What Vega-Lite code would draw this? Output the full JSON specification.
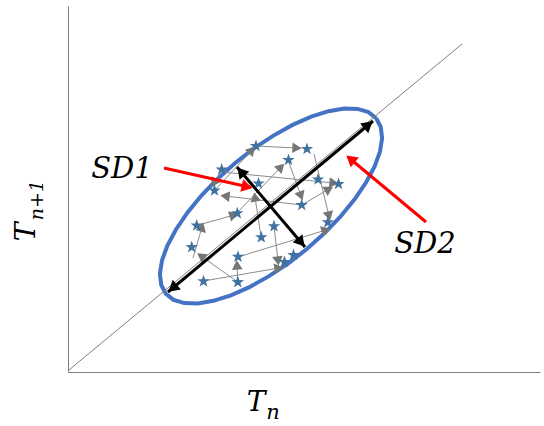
{
  "$schema": "https://vega.github.io/schema/vega-lite/v6.json",
  "width": 472,
  "height": 366,
  "autosize": {"type": "none"},
  "padding": {"left": 68, "top": 6, "right": 4, "bottom": 54},
  "background": "white",
  "config": {"view": {"stroke": null}},
  "datasets": {
    "ellipse": [
      {"i":0,"x":308.2,"y":253.7},{"i":1,"x":312.8,"y":244.9},{"i":2,"x":314.1,"y":233.7},{"i":3,"x":312.0,"y":220.4},
      {"i":4,"x":306.6,"y":205.6},{"i":5,"x":298.0,"y":189.5},{"i":6,"x":286.6,"y":172.7},{"i":7,"x":272.6,"y":155.6},
      {"i":8,"x":256.6,"y":138.9},{"i":9,"x":238.8,"y":123.0},{"i":10,"x":220.0,"y":108.3},{"i":11,"x":200.6,"y":95.6},
      {"i":12,"x":181.4,"y":84.9},{"i":13,"x":162.8,"y":76.7},{"i":14,"x":145.4,"y":71.2},{"i":15,"x":129.8,"y":68.6},
      {"i":16,"x":116.3,"y":68.9},{"i":17,"x":105.6,"y":72.1},{"i":18,"x":97.8,"y":78.3},{"i":19,"x":93.2,"y":87.1},
      {"i":20,"x":91.9,"y":98.3},{"i":21,"x":94.0,"y":111.6},{"i":22,"x":99.4,"y":126.4},{"i":23,"x":108.0,"y":142.5},
      {"i":24,"x":119.4,"y":159.3},{"i":25,"x":133.4,"y":176.4},{"i":26,"x":149.4,"y":193.1},{"i":27,"x":167.2,"y":209.0},
      {"i":28,"x":186.0,"y":223.7},{"i":29,"x":205.4,"y":236.4},{"i":30,"x":224.6,"y":247.1},{"i":31,"x":243.2,"y":255.3},
      {"i":32,"x":260.6,"y":260.8},{"i":33,"x":276.2,"y":263.4},{"i":34,"x":289.7,"y":263.1},{"i":35,"x":300.4,"y":259.9},
      {"i":36,"x":308.2,"y":253.7}
    ],
    "diag": [{"x":1,"y":2,"x2":394,"y2":328}],
    "stars": [
      {"x":188,"y":226},{"x":239,"y":223},{"x":220.5,"y":212},{"x":153.7,"y":202.5},{"x":190.5,"y":188.5},
      {"x":250,"y":192.5},{"x":270.5,"y":188},{"x":146.5,"y":181.5},{"x":233.7,"y":167},{"x":169.3,"y":158.7},
      {"x":128.7,"y":146.5},{"x":206,"y":145.7},{"x":259.8,"y":149.7},{"x":193.3,"y":134.7},{"x":123.7,"y":124.8},
      {"x":170,"y":115.2},{"x":225.5,"y":117},{"x":216.5,"y":110},{"x":135.5,"y":90.7},{"x":169.8,"y":89.8}
    ],
    "steps": [
      {"x":188,"y":226,"x2":229,"y2":224,"angle":93},
      {"x":146.5,"y":181.5,"x2":184,"y2":222,"angle":43},
      {"x":153.7,"y":202.5,"x2":146,"y2":189,"angle":210},
      {"x":169,"y":159,"x2":213,"y2":205,"angle":44},
      {"x":220,"y":212,"x2":233,"y2":176,"angle":160},
      {"x":246,"y":218,"x2":261,"y2":156,"angle":166},
      {"x":153.7,"y":200,"x2":266,"y2":189,"angle":96},
      {"x":233.7,"y":167,"x2":261,"y2":183,"angle":60},
      {"x":233.7,"y":167,"x2":157,"y2":176,"angle":277},
      {"x":128.7,"y":146.5,"x2":166,"y2":157,"angle":74},
      {"x":125,"y":114,"x2":134,"y2":145,"angle":16},
      {"x":169.8,"y":90,"x2":133,"y2":116,"angle":305},
      {"x":169.8,"y":90,"x2":169,"y2":107,"angle":357},
      {"x":206,"y":146,"x2":210,"y2":111,"angle":173},
      {"x":135.5,"y":91,"x2":211,"y2":104,"angle":80},
      {"x":170,"y":115,"x2":258,"y2":142,"angle":73},
      {"x":193,"y":135,"x2":187,"y2":175,"angle":351}
    ],
    "sdlines": [
      {"x":100,"y":80,"x2":305,"y2":251},
      {"x":169,"y":205,"x2":237,"y2":125}
    ],
    "sdheads": [
      {"x":104.6,"y":83.8,"angle":230},
      {"x":300.4,"y":247.2,"angle":50},
      {"x":172.9,"y":200.4,"angle":320},
      {"x":233.1,"y":129.6,"angle":140}
    ],
    "redlines": [
      {"x":96,"y":204,"x2":183,"y2":184.5},
      {"x":358,"y":150,"x2":280,"y2":215}
    ],
    "redheads": [
      {"x":179.1,"y":185.3,"angle":103},
      {"x":282.6,"y":213.1,"angle":310}
    ],
    "sdtext": [
      {"t":"SD1","x":54,"y":203},
      {"t":"SD2","x":357,"y":128}
    ],
    "bigT": [{"t":"T","x":188,"y":-31}],
    "subT": [{"t":"n","x":205,"y":-41}],
    "bigTr": [{"t":"T","x":-41,"y":140}],
    "subTr": [{"t":"n+1","x":-31,"y":172}]
  },
  "layer": [
    {
      "data": {"name": "ellipse"},
      "mark": {"type": "line", "stroke": "#4472C4", "strokeWidth": 4},
      "encoding": {
        "x": {"field": "x", "type": "quantitative", "scale": {"domain": [0, 472], "nice": false, "zero": false},
              "axis": {"title": null, "labels": false, "ticks": false, "grid": false, "domainColor": "#7f7f7f", "domainWidth": 1}},
        "y": {"field": "y", "type": "quantitative", "scale": {"domain": [0, 366], "nice": false, "zero": false},
              "axis": {"title": null, "labels": false, "ticks": false, "grid": false, "domainColor": "#7f7f7f", "domainWidth": 1}},
        "order": {"field": "i", "type": "quantitative"}
      }
    },
    {
      "data": {"name": "diag"},
      "mark": {"type": "rule", "stroke": "#7f7f7f", "strokeWidth": 1},
      "encoding": {
        "x": {"field": "x", "type": "quantitative"}, "y": {"field": "y", "type": "quantitative"},
        "x2": {"field": "x2"}, "y2": {"field": "y2"}
      }
    },
    {
      "data": {"name": "steps"},
      "mark": {"type": "rule", "stroke": "#8c8c8c", "strokeWidth": 1},
      "encoding": {
        "x": {"field": "x", "type": "quantitative"}, "y": {"field": "y", "type": "quantitative"},
        "x2": {"field": "x2"}, "y2": {"field": "y2"}
      }
    },
    {
      "data": {"name": "steps"},
      "mark": {"type": "point", "shape": "triangle-up", "filled": true, "color": "#767676", "size": 115, "opacity": 1},
      "encoding": {
        "x": {"field": "x2", "type": "quantitative"}, "y": {"field": "y2", "type": "quantitative"},
        "angle": {"field": "angle", "type": "quantitative", "scale": null}
      }
    },
    {
      "data": {"name": "stars"},
      "mark": {"type": "point", "shape": "M0,-1L0.235,-0.324L0.951,-0.309L0.38,0.124L0.588,0.809L0,0.4L-0.588,0.809L-0.38,0.124L-0.951,-0.309L-0.235,-0.324Z", "filled": true, "color": "#41729F", "size": 170, "opacity": 1},
      "encoding": {
        "x": {"field": "x", "type": "quantitative"}, "y": {"field": "y", "type": "quantitative"}
      }
    },
    {
      "data": {"name": "sdlines"},
      "mark": {"type": "rule", "stroke": "black", "strokeWidth": 3},
      "encoding": {
        "x": {"field": "x", "type": "quantitative"}, "y": {"field": "y", "type": "quantitative"},
        "x2": {"field": "x2"}, "y2": {"field": "y2"}
      }
    },
    {
      "data": {"name": "sdheads"},
      "mark": {"type": "point", "shape": "triangle-up", "filled": true, "color": "black", "size": 160, "opacity": 1},
      "encoding": {
        "x": {"field": "x", "type": "quantitative"}, "y": {"field": "y", "type": "quantitative"},
        "angle": {"field": "angle", "type": "quantitative", "scale": null}
      }
    },
    {
      "data": {"name": "redlines"},
      "mark": {"type": "rule", "stroke": "#FF0000", "strokeWidth": 3},
      "encoding": {
        "x": {"field": "x", "type": "quantitative"}, "y": {"field": "y", "type": "quantitative"},
        "x2": {"field": "x2"}, "y2": {"field": "y2"}
      }
    },
    {
      "data": {"name": "redheads"},
      "mark": {"type": "point", "shape": "triangle-up", "filled": true, "color": "#FF0000", "size": 160, "opacity": 1},
      "encoding": {
        "x": {"field": "x", "type": "quantitative"}, "y": {"field": "y", "type": "quantitative"},
        "angle": {"field": "angle", "type": "quantitative", "scale": null}
      }
    },
    {
      "data": {"name": "sdtext"},
      "mark": {"type": "text", "font": "DejaVu Serif", "fontStyle": "italic", "fontSize": 29, "color": "black", "align": "center", "baseline": "middle"},
      "encoding": {
        "x": {"field": "x", "type": "quantitative"}, "y": {"field": "y", "type": "quantitative"},
        "text": {"field": "t"}
      }
    },
    {
      "data": {"name": "bigT"},
      "mark": {"type": "text", "font": "DejaVu Serif", "fontStyle": "italic", "fontSize": 28, "color": "black", "align": "center", "baseline": "middle"},
      "encoding": {
        "x": {"field": "x", "type": "quantitative"}, "y": {"field": "y", "type": "quantitative"},
        "text": {"field": "t"}
      }
    },
    {
      "data": {"name": "subT"},
      "mark": {"type": "text", "font": "DejaVu Serif", "fontStyle": "italic", "fontSize": 21, "color": "black", "align": "center", "baseline": "middle"},
      "encoding": {
        "x": {"field": "x", "type": "quantitative"}, "y": {"field": "y", "type": "quantitative"},
        "text": {"field": "t"}
      }
    },
    {
      "data": {"name": "bigTr"},
      "mark": {"type": "text", "font": "DejaVu Serif", "fontStyle": "italic", "fontSize": 28, "color": "black", "align": "center", "baseline": "middle", "angle": 270},
      "encoding": {
        "x": {"field": "x", "type": "quantitative"}, "y": {"field": "y", "type": "quantitative"},
        "text": {"field": "t"}
      }
    },
    {
      "data": {"name": "subTr"},
      "mark": {"type": "text", "font": "DejaVu Serif", "fontStyle": "italic", "fontSize": 19, "color": "black", "align": "center", "baseline": "middle", "angle": 270},
      "encoding": {
        "x": {"field": "x", "type": "quantitative"}, "y": {"field": "y", "type": "quantitative"},
        "text": {"field": "t"}
      }
    }
  ]
}
